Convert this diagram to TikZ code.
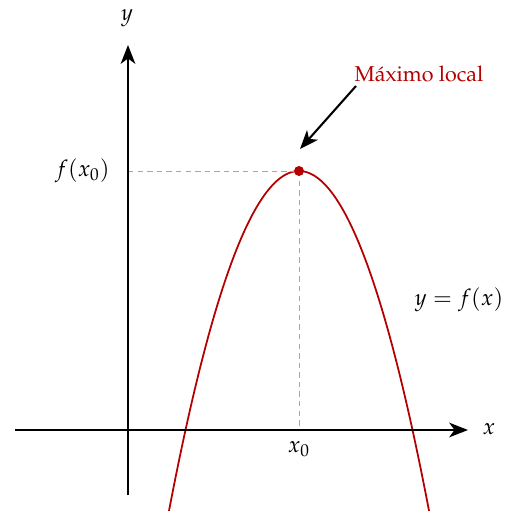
\documentclass[tikz,border=0pt]{standalone}
\usepackage[T1]{fontenc}
\usepackage{mathpazo}
\usetikzlibrary{arrows.meta}
\definecolor{maxred}{RGB}{180,0,0}
\begin{document}
\begin{tikzpicture}[x=0.48pt,y=-0.48pt,
  every node/.style={font=\fontsize{10.9}{13}\selectfont},
  axis/.style={line width=1pt,-{Stealth[length=9pt,width=7pt,inset=2.5pt]}},
  guide/.style={gray!70,line width=0.45pt,dash pattern=on 2.6pt off 2pt},
  curve/.style={maxred,line width=0.85pt},
  lbl/.style={inner sep=0pt}]
\useasboundingbox (0,0) rectangle (515,510);
\coordinate (xs) at (15,430);
\coordinate (xe) at (468,430);
\coordinate (ys) at (128,495);
\coordinate (ye) at (128,45);
\coordinate (top) at (299,171);
\coordinate (fy) at (128,171);
\coordinate (fx) at (299,430);
\begin{scope}
\clip (0,0) rectangle (515,510);
\draw[curve] plot[domain=165:433,samples=120,smooth] (\x,{171+259*((\x-299)/113.5)^2});
\end{scope}
\draw[guide] (fy) -- (top);
\draw[guide] (top) -- (fx);
\draw[axis] (xs) -- (xe);
\draw[axis] (ys) -- (ye);
\fill[maxred] (top) circle (5);
\node[lbl] (ylab) at (127,18) {$y$};
\node[lbl] (xlab) at (489,429) {$x$};
\node[lbl,anchor=east] (flab) at (110,171) {$f(x_0)$};
\node[lbl] (x0lab) at (299,449) {$x_0$};
\node[lbl] (eq) at (459,300) {$y=f(x)$};
\node[lbl,maxred,font=\fontsize{10.3}{12}\selectfont] (maxlab) at (419,74) {Máximo local};
\coordinate (as) at (356,86);
\coordinate (ae) at (300,149);
\draw[line width=1pt,-{Stealth[length=9pt,width=7pt,inset=2.5pt]}] (as) -- (ae);
\end{tikzpicture}
\end{document}
